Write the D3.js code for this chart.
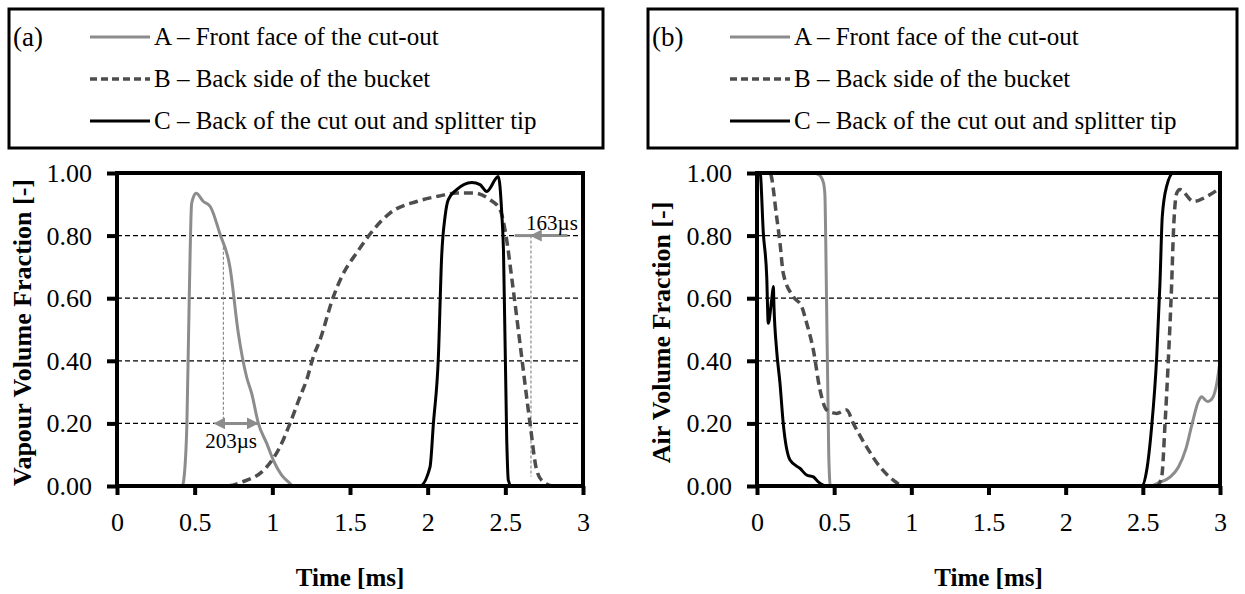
<!DOCTYPE html>
<html>
<head>
<meta charset="utf-8">
<script src="https://cdn.jsdelivr.net/npm/d3@7"></script>
<style>
body { margin: 0; background: #fff; }
svg text { font-family: "Liberation Serif", "Times New Roman", serif; fill: #000; }
</style>
</head>
<body>
<svg id="chart" width="1245" height="594"></svg>
<script>
// axis ticks
var xTicks = [0, 0.5, 1, 1.5, 2, 2.5, 3];
var yTicks = [0, 0.2, 0.4, 0.6, 0.8, 1.0];
var legendLabels = ["A \u2013 Front face of the cut-out", "B \u2013 Back side of the bucket", "C \u2013 Back of the cut out and splitter tip"];

// (a) vapour volume fraction, [time ms, value]
var vapourA = [[0,0],[0.42,0],[0.43,0.02],[0.45,0.2],[0.465,0.6],[0.48,0.9],[0.49,0.92],[0.51,0.935],[0.556,0.909],[0.6,0.893],[0.663,0.805],[0.727,0.70],[0.781,0.488],[0.834,0.349],[0.867,0.296],[0.91,0.2],[0.964,0.136],[1.006,0.083],[1.06,0.035],[1.114,0.008],[1.13,0],[3,0]];
var vapourB = [[0,0],[0.7,0],[0.8,0.012],[0.964,0.061],[1.049,0.125],[1.114,0.2],[1.178,0.285],[1.221,0.339],[1.264,0.413],[1.307,0.467],[1.393,0.605],[1.447,0.669],[1.55,0.75],[1.65,0.818],[1.757,0.872],[1.929,0.909],[2.08,0.927],[2.187,0.936],[2.294,0.936],[2.40,0.915],[2.466,0.883],[2.498,0.818],[2.551,0.627],[2.605,0.413],[2.659,0.2],[2.702,0.05],[2.745,0.013],[2.81,0],[3,0]];
var vapourC = [[0,0],[1.95,0],[2.015,0.06],[2.037,0.2],[2.069,0.413],[2.09,0.733],[2.112,0.861],[2.133,0.915],[2.187,0.947],[2.284,0.97],[2.337,0.963],[2.38,0.941],[2.455,0.989],[2.477,0.872],[2.488,0.755],[2.509,0.147],[2.519,0.019],[2.54,0],[3,0]];

// (b) air volume fraction, [time ms, value]
var airA = [[0,1],[0.36,1],[0.40,0.995],[0.43,0.97],[0.44,0.93],[0.445,0.8],[0.465,0.1],[0.475,0],[2.55,0],[2.6,0.01],[2.68,0.03],[2.73,0.06],[2.78,0.12],[2.82,0.2],[2.86,0.27],[2.88,0.285],[2.92,0.27],[2.95,0.28],[2.98,0.33],[3,0.40]];
var airB = [[0,1],[0.084,1],[0.127,0.861],[0.149,0.776],[0.17,0.68],[0.235,0.605],[0.29,0.573],[0.322,0.52],[0.365,0.435],[0.408,0.307],[0.452,0.243],[0.516,0.232],[0.581,0.243],[0.624,0.2],[0.71,0.125],[0.797,0.061],[0.883,0.019],[0.948,0],[2.59,0],[2.622,0.029],[2.644,0.2],[2.665,0.40],[2.687,0.648],[2.698,0.808],[2.72,0.936],[2.741,0.947],[2.828,0.909],[2.914,0.925],[3,0.952]];
var airC = [[0,1],[0.02,1],[0.041,0.808],[0.063,0.669],[0.073,0.52],[0.095,0.595],[0.106,0.637],[0.11,0.573],[0.127,0.435],[0.149,0.328],[0.17,0.2],[0.214,0.083],[0.279,0.056],[0.322,0.035],[0.365,0.029],[0.397,0.013],[0.45,0],[2.493,0],[2.525,0.05],[2.557,0.189],[2.59,0.413],[2.611,0.648],[2.626,0.861],[2.654,0.957],[2.698,1],[3,1]];

var seriesStyle = [
	{ stroke: "#8c8c8c", width: 3, dash: null },
	{ stroke: "#4d4d4d", width: 3.5, dash: "9,5" },
	{ stroke: "#000", width: 3, dash: null }
];

var svg = d3.select("#chart");
var defs = svg.append("defs");
["arrowEnd", "arrowStart"].forEach(function(id, i){
	defs.append("marker").attr("id", id)
		.attr("viewBox", "0 0 10 10").attr("refX", i === 0 ? 9 : 1).attr("refY", 5)
		.attr("markerWidth", 4).attr("markerHeight", 4).attr("markerUnits", "strokeWidth")
		.attr("orient", i === 0 ? "auto" : "auto-start-reverse")
		.append("path").attr("d", "M0,0 L10,5 L0,10 Z").attr("fill", "#8c8c8c");
});

function $each(arr, fn){ arr.forEach(function(d, i){ fn(i, d); }); }

function drawLegend(box, tag){
	var g = svg.append("g");
	g.append("rect").attr("x", box.x).attr("y", box.y).attr("width", box.w).attr("height", box.h)
		.attr("fill", "#fff").attr("stroke", "#000").attr("stroke-width", 3);
	g.append("text").attr("x", box.x + 4).attr("y", box.y + 37).style("font-size", "27px").text(tag);
	$each(legendLabels, function(i, label){
		var y = box.y + 28 + i * 42;
		var st = seriesStyle[i];
		g.append("line").attr("x1", box.x + box.lineX).attr("x2", box.x + box.lineX + 60)
			.attr("y1", y).attr("y2", y)
			.attr("stroke", st.stroke).attr("stroke-width", st.width)
			.attr("stroke-dasharray", st.dash ? "7,4" : null);
		g.append("text").attr("x", box.x + box.lineX + 64).attr("y", y + 8)
			.style("font-size", "25px").text(label);
	});
}

function drawPanel(p){
	var x = d3.scaleLinear().domain([0, 3]).range([p.left, p.right]);
	var y = d3.scaleLinear().domain([0, 1]).range([p.bottom, p.top]);
	var g = svg.append("g");

	// dashed grid
	g.selectAll("line.grid").data(yTicks.filter(function(v){ return v > 0 && v < 1; }))
		.enter().append("line").attr("class", "grid")
		.attr("x1", p.left).attr("x2", p.right)
		.attr("y1", function(d){ return y(d); }).attr("y2", function(d){ return y(d); })
		.attr("stroke", "#000").attr("stroke-width", 1.3).attr("stroke-dasharray", "5,3");

	// annotations under the curves
	if (p.annotate) p.annotate(g, x, y);

	var line = d3.line().x(function(d){ return x(d[0]); }).y(function(d){ return y(d[1]); })
		.curve(d3.curveMonotoneX);
	$each(p.series, function(i, s){
		var st = seriesStyle[i];
		g.append("path").datum(s).attr("d", line).attr("fill", "none")
			.attr("stroke", st.stroke).attr("stroke-width", st.width)
			.attr("stroke-dasharray", st.dash).attr("stroke-linejoin", "round");
	});

	// frame + ticks
	g.append("rect").attr("x", p.left).attr("y", p.top)
		.attr("width", p.right - p.left).attr("height", p.bottom - p.top)
		.attr("fill", "none").attr("stroke", "#000").attr("stroke-width", 4);

	var xAxis = d3.axisBottom(x).tickValues(xTicks).tickSize(9).tickFormat(d3.format(""));
	var gx = g.append("g").attr("transform", "translate(0," + p.bottom + ")").call(xAxis);
	gx.select(".domain").remove();
	gx.selectAll(".tick line").attr("stroke", "#000").attr("stroke-width", 4);
	gx.selectAll(".tick text").attr("dy", null).attr("y", 45)
		.style("font-size", "26px").style("font-family", "Liberation Serif");

	var yAxis = d3.axisLeft(y).tickValues(yTicks).tickSize(10).tickFormat("");
	var gy = g.append("g").attr("transform", "translate(" + p.left + ",0)").call(yAxis);
	gy.select(".domain").remove();
	gy.selectAll(".tick line").attr("stroke", "#000").attr("stroke-width", 4);
	// y tick labels placed by hand so they sit clear of the ticks
	g.selectAll("text.ylab").data(yTicks).enter().append("text").attr("class", "ylab")
		.attr("x", p.left - 25).attr("y", function(d){ return y(d) + 9; })
		.attr("text-anchor", "end").style("font-size", "26px")
		.text(d3.format(".2f"));

	g.append("text").attr("x", (p.left + p.right) / 2).attr("y", 586)
		.attr("text-anchor", "middle").style("font-size", "25px").style("font-weight", "bold")
		.text("Time [ms]");
	g.append("text").attr("transform", "translate(" + p.yTitleX + "," + ((p.top + p.bottom) / 2 + 3) + ") rotate(-90)")
		.attr("text-anchor", "middle").style("font-size", "26px").style("font-weight", "bold")
		.text(p.yTitle);
}

drawLegend({ x: 9, y: 9, w: 594, h: 139, lineX: 81 }, "(a)");
drawLegend({ x: 648, y: 9, w: 589, h: 139, lineX: 82 }, "(b)");

drawPanel({
	left: 117, right: 583, top: 173, bottom: 486,
	series: [vapourA, vapourB, vapourC],
	yTitle: "Vapour Volume Fraction [-]", yTitleX: 31,
	annotate: function(g, x, y){
		// 203 µs width of curve A
		g.append("line").attr("x1", x(0.685)).attr("x2", x(0.685)).attr("y1", y(0.78)).attr("y2", y(0.2))
			.attr("stroke", "#8c8c8c").attr("stroke-width", 1.2).attr("stroke-dasharray", "3,2");
		g.append("line").attr("x1", x(0.69)).attr("x2", x(0.905)).attr("y1", y(0.2)).attr("y2", y(0.2))
			.attr("stroke", "#8c8c8c").attr("stroke-width", 3)
			.attr("marker-start", "url(#arrowStart)").attr("marker-end", "url(#arrowEnd)");
		g.append("text").attr("x", x(0.735)).attr("y", y(0.2) + 25).attr("text-anchor", "middle")
			.style("font-size", "21px").text("203\u00b5s");
		// 163 µs fall of curve B
		g.append("line").attr("x1", x(2.665)).attr("x2", x(2.665)).attr("y1", y(0.8)).attr("y2", y(0.03))
			.attr("stroke", "#8c8c8c").attr("stroke-width", 1.2).attr("stroke-dasharray", "3,2");
		g.append("line").attr("x1", x(2.56)).attr("x2", x(2.665)).attr("y1", y(0.8)).attr("y2", y(0.8))
			.attr("stroke", "#8c8c8c").attr("stroke-width", 3);
		g.append("line").attr("x1", x(2.9)).attr("x2", x(2.665)).attr("y1", y(0.8)).attr("y2", y(0.8))
			.attr("stroke", "#8c8c8c").attr("stroke-width", 3).attr("marker-end", "url(#arrowEnd)");
		g.append("text").attr("x", x(2.8)).attr("y", y(0.8) - 6).attr("text-anchor", "middle")
			.style("font-size", "21px").text("163\u00b5s");
	}
});

drawPanel({
	left: 757, right: 1220, top: 173, bottom: 486,
	series: [airA, airB, airC],
	yTitle: "Air Volume Fraction [-]", yTitleX: 670
});
</script>
</body>
</html>
